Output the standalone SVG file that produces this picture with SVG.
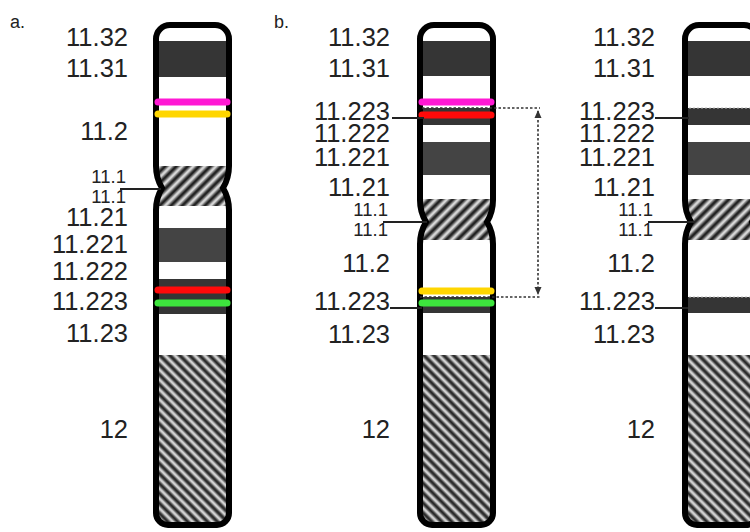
<svg xmlns="http://www.w3.org/2000/svg" width="750" height="532" viewBox="0 0 750 532">
  <style>
    .lbl { font-family: "Liberation Sans", Arial, sans-serif; font-size: 25.5px; fill: #222; text-anchor: end; }
    .sm { font-size: 18.5px; }
    .panel { font-family: "Liberation Sans", Arial, sans-serif; font-size: 18px; fill: #222; }
    .outline { fill: none; stroke: #000; stroke-width: 6; }
    .lead { stroke: #222; stroke-width: 2; fill: none; }
    .dot { stroke: #333; stroke-width: 1.6; stroke-dasharray: 2.5 2; fill: none; }
    .sig { stroke-width: 7; stroke-linecap: round; fill: none; }
    .mag { stroke: #ff18d4; }
    .yel { stroke: #ffd600; }
    .red { stroke: #ff0a0a; }
    .grn { stroke: #3de53d; }
    .d1 { fill: #353535; }
    .d2 { fill: #444; }
  </style>
  <defs>
    <linearGradient id="stripe" x1="0" y1="0" x2="1" y2="0">
      <stop offset="0" stop-color="#f4f4f4"/>
      <stop offset="0.42" stop-color="#242424"/>
      <stop offset="0.58" stop-color="#242424"/>
      <stop offset="1" stop-color="#f4f4f4"/>
    </linearGradient>
    <pattern id="hatchCen" patternUnits="userSpaceOnUse" width="8" height="8" patternTransform="rotate(45)">
      <rect width="8" height="8" fill="url(#stripe)"/>
    </pattern>
    <pattern id="hatchQ" patternUnits="userSpaceOnUse" width="7" height="7" patternTransform="rotate(-45)">
      <rect width="7" height="7" fill="url(#stripe)"/>
    </pattern>
    <!-- chromosome silhouettes (local coords, 73 wide) -->
    <path id="shapeA" d="M14,25 H59 A14,14 0 0 1 73,39 V166 Q73,178 67,188 Q73,198 73,210 V513 A12,12 0 0 1 61,525 H12 A12,12 0 0 1 0,513 V210 Q0,198 6,188 Q0,178 0,166 V39 A14,14 0 0 1 14,25 Z"/>
    <path id="shapeB" d="M14,25 H59 A14,14 0 0 1 73,39 V200 Q73,212 67,222 Q73,232 73,244 V513 A12,12 0 0 1 61,525 H12 A12,12 0 0 1 0,513 V244 Q0,232 6,222 Q0,212 0,200 V39 A14,14 0 0 1 14,25 Z"/>
    <clipPath id="clipA"><use href="#shapeA"/></clipPath>
    <clipPath id="clipB"><use href="#shapeB"/></clipPath>
    <marker id="tip" viewBox="0 0 8 8" refX="7" refY="4" markerWidth="8" markerHeight="8" markerUnits="userSpaceOnUse" orient="auto-start-reverse">
      <path d="M0,0.5 L8,4 L0,7.5 Z" fill="#333"/>
    </marker>
  </defs>

  <rect width="750" height="532" fill="#fff"/>

  <text class="panel" x="10" y="28">a.</text>
  <text class="panel" x="274" y="28">b.</text>

  <!-- chromosome a -->
  <g id="chromA">
    <g transform="translate(156,0)">
      <g clip-path="url(#clipA)">
        <rect x="-5" y="20" width="85" height="510" fill="#fff"/>
        <rect class="d1" x="-5" y="41" width="85" height="36"/>
        <rect x="-5" y="166" width="85" height="40" fill="url(#hatchCen)"/>
        <rect class="d2" x="-5" y="228" width="85" height="34"/>
        <rect class="d1" x="-5" y="279" width="85" height="35"/>
        <rect x="-5" y="355" width="85" height="175" fill="url(#hatchQ)"/>
      </g>
      <use href="#shapeA" class="outline"/>
      <line class="sig mag" x1="2" y1="102" x2="71" y2="102"/>
      <line class="sig yel" x1="2" y1="114" x2="71" y2="114"/>
      <line class="sig red" x1="2" y1="290" x2="71" y2="290"/>
      <line class="sig grn" x1="2" y1="303" x2="71" y2="303"/>
    </g>
    <text class="lbl" x="128" y="46">11.32</text>
    <text class="lbl" x="128" y="77">11.31</text>
    <text class="lbl" x="128" y="140">11.2</text>
    <text class="lbl sm" x="126" y="183">11.1</text>
    <text class="lbl sm" x="126" y="203">11.1</text>
    <text class="lbl" x="128" y="226">11.21</text>
    <text class="lbl" x="128" y="253">11.221</text>
    <text class="lbl" x="128" y="280">11.222</text>
    <text class="lbl" x="128" y="310">11.223</text>
    <text class="lbl" x="128" y="342">11.23</text>
    <text class="lbl" x="128" y="438">12</text>
  </g>

  <!-- chromosome b -->
  <g id="chromB">
    <g transform="translate(420,0)">
      <g clip-path="url(#clipB)">
        <rect x="-5" y="20" width="85" height="510" fill="#fff"/>
        <rect class="d1" x="-5" y="41" width="85" height="35"/>
        <rect class="d1" x="-5" y="108" width="85" height="17"/>
        <rect class="d2" x="-5" y="142" width="85" height="33"/>
        <rect x="-5" y="199" width="85" height="41" fill="url(#hatchCen)"/>
        <rect class="d1" x="-5" y="297" width="85" height="16"/>
        <rect x="-5" y="355" width="85" height="175" fill="url(#hatchQ)"/>
      </g>
      <use href="#shapeB" class="outline"/>
      <line class="sig mag" x1="2" y1="102" x2="71" y2="102"/>
      <line class="sig red" x1="2" y1="115" x2="71" y2="115"/>
      <line class="sig yel" x1="2" y1="291" x2="71" y2="291"/>
      <line class="sig grn" x1="2" y1="303" x2="71" y2="303"/>
    </g>
    <text class="lbl" x="390" y="46">11.32</text>
    <text class="lbl" x="390" y="77">11.31</text>
    <text class="lbl" x="390" y="120">11.223</text>
    <text class="lbl" x="390" y="142">11.222</text>
    <text class="lbl" x="390" y="166">11.221</text>
    <text class="lbl" x="390" y="196">11.21</text>
    <text class="lbl sm" x="388" y="216">11.1</text>
    <text class="lbl sm" x="388" y="236">11.1</text>
    <text class="lbl" x="390" y="272">11.2</text>
    <text class="lbl" x="390" y="310">11.223</text>
    <text class="lbl" x="390" y="343">11.23</text>
    <text class="lbl" x="390" y="438">12</text>
  </g>

  <!-- chromosome c -->
  <g id="chromC">
    <g transform="translate(685,0)">
      <g clip-path="url(#clipB)">
        <rect x="-5" y="20" width="85" height="510" fill="#fff"/>
        <rect class="d1" x="-5" y="41" width="85" height="35"/>
        <rect class="d1" x="-5" y="108" width="85" height="17"/>
        <rect class="d2" x="-5" y="142" width="85" height="33"/>
        <rect x="-5" y="199" width="85" height="41" fill="url(#hatchCen)"/>
        <rect class="d1" x="-5" y="297" width="85" height="16"/>
        <rect x="-5" y="355" width="85" height="175" fill="url(#hatchQ)"/>
        <line x1="0" y1="108" x2="80" y2="108" stroke="#bbb" stroke-width="1.2" stroke-dasharray="2 2"/>
        <line x1="0" y1="297" x2="80" y2="297" stroke="#bbb" stroke-width="1.2" stroke-dasharray="2 2"/>
      </g>
      <use href="#shapeB" class="outline"/>
    </g>
    <text class="lbl" x="655" y="46">11.32</text>
    <text class="lbl" x="655" y="77">11.31</text>
    <text class="lbl" x="655" y="120">11.223</text>
    <text class="lbl" x="655" y="142">11.222</text>
    <text class="lbl" x="655" y="166">11.221</text>
    <text class="lbl" x="655" y="196">11.21</text>
    <text class="lbl sm" x="653" y="216">11.1</text>
    <text class="lbl sm" x="653" y="236">11.1</text>
    <text class="lbl" x="655" y="272">11.2</text>
    <text class="lbl" x="655" y="310">11.223</text>
    <text class="lbl" x="655" y="343">11.23</text>
    <text class="lbl" x="655" y="438">12</text>
  </g>

  <!-- leader lines and the duplicated-segment bracket -->
  <g id="connectors">
    <line class="lead" x1="120" y1="189" x2="161" y2="189"/>
    <line class="lead" x1="392" y1="118" x2="424" y2="118"/>
    <line class="lead" x1="383" y1="222" x2="427" y2="222"/>
    <line class="lead" x1="390" y1="308" x2="422" y2="308"/>
    <line class="lead" x1="655" y1="118" x2="689" y2="118"/>
    <line class="lead" x1="648" y1="222" x2="695" y2="222"/>
    <line class="lead" x1="655" y1="308" x2="688" y2="308"/>
    <line class="dot" x1="422" y1="108" x2="540" y2="108"/>
    <line class="dot" x1="420" y1="297" x2="540" y2="297"/>
    <line class="dot" x1="538" y1="111" x2="538" y2="294" marker-start="url(#tip)" marker-end="url(#tip)"/>
  </g>
</svg>
